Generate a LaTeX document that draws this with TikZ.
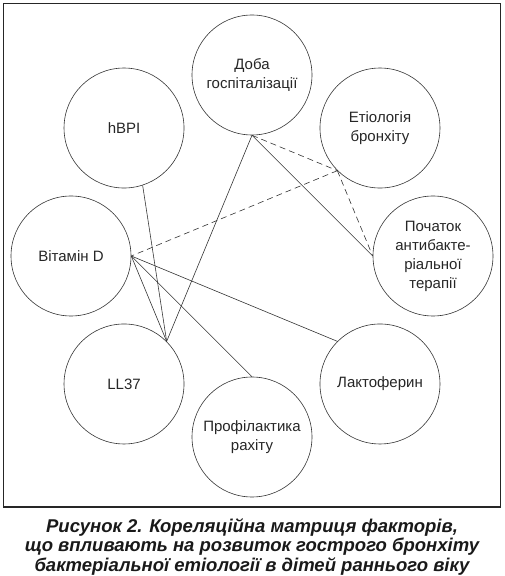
\documentclass[tikz,border=0pt]{standalone}
\usepackage{fontspec}
\setmainfont{Liberation Sans}
\usetikzlibrary{calc}
\tikzset{
  factor/.style={draw=black!80, circle, minimum size=120pt, inner sep=0pt,
                 align=center, text=black!85, line width=0.6pt,
                 font=\fontsize{15}{19}\selectfont},
  frame border/.style={draw=black!85, line width=1.2pt}
}

\begin{document}
\begin{tikzpicture}[x=1pt, y=1pt,
  % solid link between two factors
  link/.style  = {draw=black!80, line width=0.6pt},
  % dashed link between two factors
  dlink/.style = {link, dash pattern=on 6pt off 4pt},
]

\useasboundingbox (0,0) rectangle (504,576);

% ──────────────────────────
%  Frame round the graph
% ──────────
\draw[frame border] (3.5,69) rectangle (500.5,572.5);

% ═══════════════════════════
%  Factors, on a ring of eight places
% ═══════════════════
\begin{scope}[shift={(252,320)}]
  \node[factor] (doba) at (90:181)  {Доба\\госпіталізації};
  \node[factor] (etio) at (45:181)  {Етіологія\\бронхіту};
  \node[factor] (hbpi) at (135:181) {hBPI};
  \node[factor] (vitd) at (180:181) {Вітамін D};
  \node[factor] (start) at (0:181)  {Початок\\антибакте-\\ріальної\\терапії};
  \node[factor] (ll) at (225:181)   {LL37};
  \node[factor] (lacto) at (315:181) {Лактоферин};
  \node[factor] (prof) at (270:181) {Профілактика\\рахіту};
\end{scope}

% ───────────────────────────
%  Links
% ────────────────
\draw[link] (doba.south) -- (ll.north east);
\draw[link] (doba.south) -- (start.west);
\draw[dlink] (doba.south) -- (etio.south west);
\draw[dlink] (etio.south west) -- (vitd.east);
\draw[dlink] (etio.south west) -- (start.west);
\draw[link] (hbpi.-72) -- (ll.north east);

\foreach \t in {ll.north east, prof.north, lacto.north west}
  \draw[link] (vitd.east) -- (\t);

% ─────────────────────
%  Caption
% ─────────────────
\node[font=\fontsize{18.5}{19.5}\selectfont\bfseries\itshape, align=center,
      text=black!90] (caption) at (252,29.5)
  {Рисунок 2. Кореляційна матриця факторів,\\
   що впливають на розвиток гострого бронхіту\\
   бактеріальної етіології в дітей раннього віку};

\end{tikzpicture}
\end{document}
